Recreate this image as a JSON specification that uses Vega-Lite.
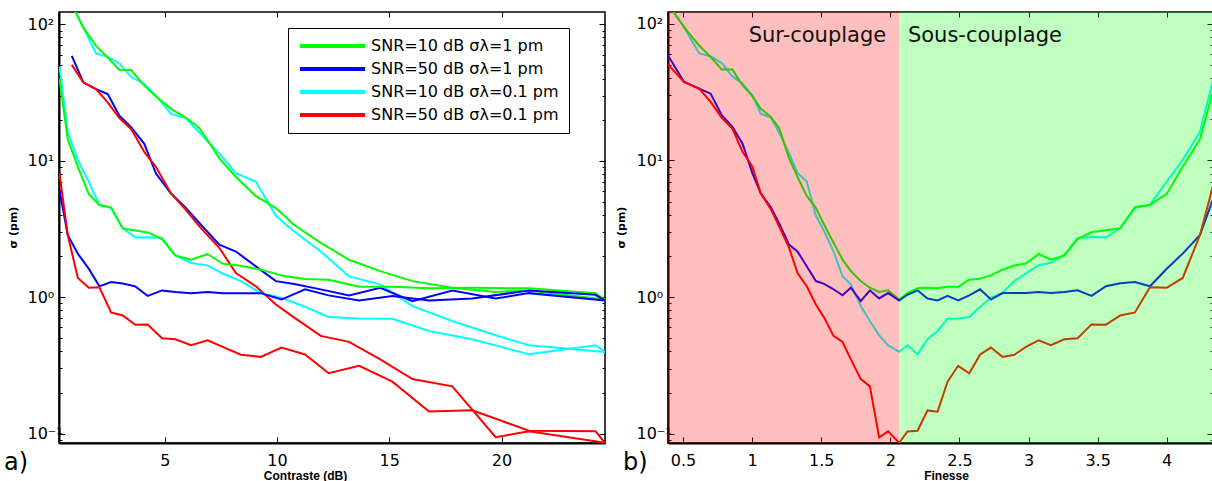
{
  "$schema": "https://vega.github.io/schema/vega-lite/v6.json",
  "padding": {"left": 3, "top": 10, "right": 0, "bottom": 0},
  "bounds": "flush",
  "spacing": 63,
  "config": {
    "font": "DejaVu Sans",
    "view": {"stroke": "#000", "strokeWidth": 1.5},
    "axis": {"grid": false, "labelFont": "DejaVu Sans", "titleFont": "Liberation Sans", "labelColor": "#000", "titleColor": "#000", "tickColor": "#000", "domainColor": "#000", "labelOverlap": false, "labelFlush": false, "labelBound": false}
  },
  "resolve": {"scale": {"color": "independent"}, "legend": {"color": "independent"}},
  "datasets": {
    "pts": [
      {"finesse":0.391,"contrast":0.86,"branch":"sur","snr10_s1":140,"snr50_s1":58.7,"snr10_s01":140,"snr50_s01":50.4},
      {"finesse":0.507,"contrast":1.375,"branch":"sur","snr10_s1":94.5,"snr50_s1":37.5,"snr10_s01":94.5,"snr50_s01":37.5},
      {"finesse":0.616,"contrast":1.94,"branch":"sur","snr10_s1":69.4,"snr50_s1":33.5,"snr10_s01":61,"snr50_s01":33.5},
      {"finesse":0.700,"contrast":2.46,"branch":"sur","snr10_s1":57.1,"snr50_s1":30.8,"snr10_s01":57.7,"snr50_s01":26.8},
      {"finesse":0.780,"contrast":2.98,"branch":"sur","snr10_s1":46.2,"snr50_s1":21.4,"snr10_s01":51.6,"snr50_s01":20.5},
      {"finesse":0.857,"contrast":3.50,"branch":"sur","snr10_s1":46.2,"snr50_s1":17.6,"snr10_s01":41.2,"snr50_s01":17.1},
      {"finesse":0.930,"contrast":4.09,"branch":"sur","snr10_s1":35.5,"snr50_s1":13.3,"snr10_s01":36.5,"snr50_s01":11.6},
      {"finesse":1.002,"contrast":4.61,"branch":"sur","snr10_s1":29.5,"snr50_s1":8.05,"snr10_s01":30,"snr50_s01":9.0},
      {"finesse":1.062,"contrast":5.28,"branch":"sur","snr10_s1":24,"snr50_s1":5.75,"snr10_s01":22.0,"snr50_s01":5.75},
      {"finesse":1.135,"contrast":5.92,"branch":"sur","snr10_s1":20.8,"snr50_s1":4.55,"snr10_s01":20.6,"snr50_s01":4.4},
      {"finesse":1.195,"contrast":6.55,"branch":"sur","snr10_s1":17.3,"snr50_s1":3.48,"snr10_s01":16,"snr50_s01":3.29},
      {"finesse":1.267,"contrast":7.43,"branch":"sur","snr10_s1":10.4,"snr50_s1":2.42,"snr10_s01":11.3,"snr50_s01":2.3},
      {"finesse":1.328,"contrast":8.17,"branch":"sur","snr10_s1":7.6,"snr50_s1":2.16,"snr10_s01":8.1,"snr50_s01":1.50},
      {"finesse":1.395,"contrast":9.06,"branch":"sur","snr10_s1":5.5,"snr50_s1":1.68,"snr10_s01":7.0,"snr50_s01":1.20},
      {"finesse":1.461,"contrast":9.95,"branch":"sur","snr10_s1":4.5,"snr50_s1":1.31,"snr10_s01":3.95,"snr50_s01":0.883},
      {"finesse":1.521,"contrast":10.77,"branch":"sur","snr10_s1":3.38,"snr50_s1":1.25,"snr10_s01":3.03,"snr50_s01":0.707},
      {"finesse":1.589,"contrast":11.95,"branch":"sur","snr10_s1":2.5,"snr50_s1":1.14,"snr10_s01":2.16,"snr50_s01":0.52},
      {"finesse":1.654,"contrast":13.21,"branch":"sur","snr10_s1":1.88,"snr50_s1":1.03,"snr10_s01":1.42,"snr50_s01":0.47},
      {"finesse":1.714,"contrast":14.6,"branch":"sur","snr10_s1":1.55,"snr50_s1":1.17,"snr10_s01":1.24,"snr50_s01":0.35},
      {"finesse":1.786,"contrast":16.03,"branch":"sur","snr10_s1":1.31,"snr50_s1":0.935,"snr10_s01":0.86,"snr50_s01":0.251},
      {"finesse":1.852,"contrast":17.81,"branch":"sur","snr10_s1":1.17,"snr50_s1":1.12,"snr10_s01":0.668,"snr50_s01":0.222},
      {"finesse":1.919,"contrast":19.74,"branch":"sur","snr10_s1":1.09,"snr50_s1":0.977,"snr10_s01":0.525,"snr50_s01":0.094},
      {"finesse":1.984,"contrast":21.22,"branch":"sur","snr10_s1":1.12,"snr50_s1":1.07,"snr10_s01":0.444,"snr50_s01":0.104},
      {"finesse":2.064,"contrast":24.6,"branch":"sur","snr10_s1":0.96,"snr50_s1":0.944,"snr10_s01":0.397,"snr50_s01":0.0857},
      {"finesse":2.064,"contrast":24.6,"branch":"sous","snr10_s1":0.96,"snr50_s1":0.944,"snr10_s01":0.397,"snr50_s01":0.0857},
      {"finesse":2.124,"contrast":24.19,"branch":"sous","snr10_s1":1.07,"snr50_s1":1.04,"snr10_s01":0.444,"snr50_s01":0.104},
      {"finesse":2.197,"contrast":21.22,"branch":"sous","snr10_s1":1.16,"snr50_s1":1.12,"snr10_s01":0.382,"snr50_s01":0.105},
      {"finesse":2.269,"contrast":18.70,"branch":"sous","snr10_s1":1.17,"snr50_s1":0.977,"snr10_s01":0.491,"snr50_s01":0.148},
      {"finesse":2.342,"contrast":16.77,"branch":"sous","snr10_s1":1.16,"snr50_s1":0.944,"snr10_s01":0.565,"snr50_s01":0.145},
      {"finesse":2.414,"contrast":15.14,"branch":"sous","snr10_s1":1.19,"snr50_s1":1.02,"snr10_s01":0.695,"snr50_s01":0.24},
      {"finesse":2.491,"contrast":13.66,"branch":"sous","snr10_s1":1.19,"snr50_s1":0.944,"snr10_s01":0.698,"snr50_s01":0.314},
      {"finesse":2.571,"contrast":12.3,"branch":"sous","snr10_s1":1.34,"snr50_s1":1.03,"snr10_s01":0.715,"snr50_s01":0.277},
      {"finesse":2.650,"contrast":11.25,"branch":"sous","snr10_s1":1.36,"snr50_s1":1.14,"snr10_s01":0.85,"snr50_s01":0.38},
      {"finesse":2.728,"contrast":10.2,"branch":"sous","snr10_s1":1.44,"snr50_s1":0.96,"snr10_s01":0.99,"snr50_s01":0.427},
      {"finesse":2.812,"contrast":9.28,"branch":"sous","snr10_s1":1.59,"snr50_s1":1.07,"snr10_s01":1.07,"snr50_s01":0.365},
      {"finesse":2.897,"contrast":8.39,"branch":"sous","snr10_s1":1.70,"snr50_s1":1.07,"snr10_s01":1.31,"snr50_s01":0.378},
      {"finesse":2.981,"contrast":7.58,"branch":"sous","snr10_s1":1.76,"snr50_s1":1.07,"snr10_s01":1.49,"snr50_s01":0.432},
      {"finesse":3.073,"contrast":6.91,"branch":"sous","snr10_s1":2.07,"snr50_s1":1.09,"snr10_s01":1.71,"snr50_s01":0.483},
      {"finesse":3.162,"contrast":6.17,"branch":"sous","snr10_s1":1.88,"snr50_s1":1.07,"snr10_s01":1.78,"snr50_s01":0.444},
      {"finesse":3.259,"contrast":5.47,"branch":"sous","snr10_s1":2.02,"snr50_s1":1.09,"snr10_s01":2.02,"snr50_s01":0.491},
      {"finesse":3.355,"contrast":4.88,"branch":"sous","snr10_s1":2.66,"snr50_s1":1.12,"snr10_s01":2.71,"snr50_s01":0.499},
      {"finesse":3.456,"contrast":4.24,"branch":"sous","snr10_s1":2.98,"snr50_s1":1.02,"snr10_s01":2.75,"snr50_s01":0.631},
      {"finesse":3.560,"contrast":3.69,"branch":"sous","snr10_s1":3.08,"snr50_s1":1.20,"snr10_s01":2.74,"snr50_s01":0.628},
      {"finesse":3.664,"contrast":3.13,"branch":"sous","snr10_s1":3.19,"snr50_s1":1.26,"snr10_s01":3.19,"snr50_s01":0.734},
      {"finesse":3.770,"contrast":2.61,"branch":"sous","snr10_s1":4.55,"snr50_s1":1.29,"snr10_s01":4.49,"snr50_s01":0.772},
      {"finesse":3.879,"contrast":2.09,"branch":"sous","snr10_s1":4.73,"snr50_s1":1.20,"snr10_s01":4.73,"snr50_s01":1.18},
      {"finesse":4.000,"contrast":1.62,"branch":"sous","snr10_s1":5.69,"snr50_s1":1.61,"snr10_s01":7.0,"snr50_s01":1.17},
      {"finesse":4.116,"contrast":1.13,"branch":"sous","snr10_s1":9.0,"snr50_s1":2.08,"snr10_s01":10.1,"snr50_s01":1.38},
      {"finesse":4.241,"contrast":0.68,"branch":"sous","snr10_s1":14.3,"snr50_s1":2.85,"snr10_s01":16.2,"snr50_s01":2.85},
      {"finesse":4.36,"contrast":0.31,"branch":"sous","snr10_s1":40,"snr50_s1":6.1,"snr10_s01":49,"snr50_s01":8.1}
    ],
    "zones": [
      {"zone": "Sur-couplage", "start": 0, "end": 2.064},
      {"zone": "Sous-couplage", "start": 2.064, "end": 5}
    ],
    "labels": [
      {"label": "Sur-couplage", "finesse": 0.975, "sigma": 73},
      {"label": "Sous-couplage", "finesse": 2.127, "sigma": 73}
    ]
  },
  "hconcat": [
    {
      "width": 546,
      "height": 431,
      "title": {"text": "a)", "orient": "bottom", "anchor": "start", "frame": "group", "dx": -55, "dy": -30, "fontSize": 24, "fontWeight": "normal", "font": "DejaVu Sans", "color": "#000", "offset": 0},
      "data": {"name": "pts"},
      "transform": [{"fold": ["snr10_s01", "snr10_s1", "snr50_s1", "snr50_s01"], "as": ["serie", "sigma"]}],
      "layer": [
        {
          "mark": {"type": "line", "strokeWidth": 2, "clip": true},
          "encoding": {
            "x": {"field": "contrast", "type": "quantitative", "scale": {"domain": [0.29, 24.61], "nice": false, "zero": false},
              "axis": {"orient": "bottom", "values": [5, 10, 15, 20], "tickSize": -6, "labelPadding": 15, "labelBaseline": "top", "labelFontSize": 16, "domainWidth": 2, "title": "Contraste (dB)", "titleFontSize": 12, "titleFontWeight": "bold", "titleX": 246, "titleY": 36, "titleBaseline": "alphabetic"}},
            "y": {"field": "sigma", "type": "quantitative", "scale": {"type": "log", "domain": [0.0853, 123], "nice": false},
              "axis": {"orient": "left", "values": [0.09,0.1,0.2,0.3,0.4,0.5,0.6,0.7,0.8,0.9,1,2,3,4,5,6,7,8,9,10,20,30,40,50,60,70,80,90,100],
                "labelExpr": "datum.value == 100 ? '10²' : datum.value == 10 ? '10¹' : datum.value == 1 ? '10⁰' : datum.value == 0.1 ? '10⁻¹' : ''",
                "tickSize": {"condition": {"test": "indexof([0.1,1,10,100], datum.value) >= 0", "value": -6}, "value": -3},
                "labelAlign": "left", "labelBaseline": "middle", "labelPadding": 38, "labelFontSize": 16, "domainWidth": 2,
                "title": "σ (pm)", "titleFont": "DejaVu Sans", "titleFontSize": 11, "titleFontWeight": "bold", "titleX": -46, "titleY": 215, "titleAngle": -90, "titleAlign": "center", "titleBaseline": "middle"}},
            "color": {"field": "serie", "type": "nominal",
              "scale": {"domain": ["snr10_s1", "snr50_s1", "snr10_s01", "snr50_s01"], "range": ["#00ff00", "#0000ff", "#00ffff", "#ff0000"]},
              "legend": {"orient": "none", "legendX": 229, "legendY": 16, "title": null, "symbolType": "stroke", "symbolSize": 4225, "symbolStrokeWidth": 4, "clipHeight": 16, "rowPadding": 7, "padding": 10, "labelOffset": 4, "labelLimit": 0,
                "labelFontSize": 16, "labelFont": "DejaVu Sans", "labelColor": "#000", "strokeColor": "#000", "fillColor": "#fff",
                "labelExpr": "datum.value == 'snr10_s1' ? 'SNR=10 dB σλ=1 pm' : datum.value == 'snr50_s1' ? 'SNR=50 dB σλ=1 pm' : datum.value == 'snr10_s01' ? 'SNR=10 dB σλ=0.1 pm' : 'SNR=50 dB σλ=0.1 pm'"}},
            "detail": {"field": "branch", "type": "nominal"}
          }
        },
        {
          "mark": {"type": "point", "opacity": 0, "clip": true},
          "encoding": {
            "x": {"field": "contrast", "type": "quantitative", "axis": {"orient": "top", "values": [5, 10, 15, 20], "tickSize": -5, "labels": false, "domain": false, "title": null}},
            "y": {"field": "sigma", "type": "quantitative", "axis": {"orient": "right", "values": [0.09,0.1,0.2,0.3,0.4,0.5,0.6,0.7,0.8,0.9,1,2,3,4,5,6,7,8,9,10,20,30,40,50,60,70,80,90,100], "labels": false, "domain": false, "title": null,
              "tickSize": {"condition": {"test": "indexof([0.1,1,10,100], datum.value) >= 0", "value": -6}, "value": -3}}}
          }
        }
      ],
      "resolve": {"axis": {"x": "independent", "y": "independent"}}
    },
    {
      "width": 545,
      "height": 431,
      "title": {"text": "b)", "orient": "bottom", "anchor": "start", "frame": "group", "dx": -45, "dy": -30, "fontSize": 24, "fontWeight": "normal", "font": "DejaVu Sans", "color": "#000", "offset": 0},
      "layer": [
        {
          "data": {"name": "pts"},
          "transform": [{"fold": ["snr10_s01", "snr10_s1", "snr50_s1", "snr50_s01"], "as": ["serie", "sigma"]}],
          "mark": {"type": "line", "strokeWidth": 2, "clip": true},
          "encoding": {
            "x": {"field": "finesse", "type": "quantitative", "scale": {"domain": [0.391, 4.335], "nice": false, "zero": false},
              "axis": {"orient": "bottom", "values": [0.5, 1, 1.5, 2, 2.5, 3, 3.5, 4], "format": "~g", "tickSize": -6, "labelPadding": 15, "labelBaseline": "top", "labelFontSize": 16, "domainWidth": 2, "title": "Finesse", "titleFontSize": 12, "titleFontWeight": "bold", "titleX": 278, "titleY": 36, "titleBaseline": "alphabetic"}},
            "y": {"field": "sigma", "type": "quantitative", "scale": {"type": "log", "domain": [0.0855, 122], "nice": false},
              "axis": {"orient": "left", "values": [0.09,0.1,0.2,0.3,0.4,0.5,0.6,0.7,0.8,0.9,1,2,3,4,5,6,7,8,9,10,20,30,40,50,60,70,80,90,100],
                "labelExpr": "datum.value == 100 ? '10²' : datum.value == 10 ? '10¹' : datum.value == 1 ? '10⁰' : datum.value == 0.1 ? '10⁻¹' : ''",
                "tickSize": {"condition": {"test": "indexof([0.1,1,10,100], datum.value) >= 0", "value": -6}, "value": -3},
                "labelAlign": "left", "labelBaseline": "middle", "labelPadding": 38, "labelFontSize": 16, "domainWidth": 2,
                "title": "σ (pm)", "titleFont": "DejaVu Sans", "titleFontSize": 11, "titleFontWeight": "bold", "titleX": -47, "titleY": 215, "titleAngle": -90, "titleAlign": "center", "titleBaseline": "middle"}},
            "color": {"field": "serie", "type": "nominal",
              "scale": {"domain": ["snr10_s1", "snr50_s1", "snr10_s01", "snr50_s01"], "range": ["#00ff00", "#0000ff", "#00ffff", "#ff0000"]},
              "legend": null}
          }
        },
        {
          "data": {"name": "zones"},
          "mark": {"type": "rect", "opacity": 0.25, "clip": true},
          "encoding": {
            "x": {"field": "start", "type": "quantitative", "axis": null},
            "x2": {"field": "end"},
            "fill": {"field": "zone", "type": "nominal", "scale": {"domain": ["Sur-couplage", "Sous-couplage"], "range": ["#ff0000", "#00ff00"]}, "legend": null}
          }
        },
        {
          "data": {"name": "labels"},
          "mark": {"type": "text", "align": "left", "baseline": "alphabetic", "fontSize": 21, "font": "DejaVu Sans", "color": "#111"},
          "encoding": {
            "x": {"field": "finesse", "type": "quantitative", "axis": null},
            "y": {"field": "sigma", "type": "quantitative", "axis": null},
            "text": {"field": "label"}
          }
        },
        {
          "data": {"name": "labels"},
          "mark": {"type": "point", "opacity": 0},
          "encoding": {
            "x": {"field": "finesse", "type": "quantitative", "axis": {"orient": "top", "values": [0.5, 1, 1.5, 2, 2.5, 3, 3.5, 4], "tickSize": -5, "labels": false, "domain": false, "title": null}},
            "y": {"field": "sigma", "type": "quantitative", "axis": {"orient": "right", "values": [0.09,0.1,0.2,0.3,0.4,0.5,0.6,0.7,0.8,0.9,1,2,3,4,5,6,7,8,9,10,20,30,40,50,60,70,80,90,100], "labels": false, "domain": false, "title": null,
              "tickSize": {"condition": {"test": "indexof([0.1,1,10,100], datum.value) >= 0", "value": -6}, "value": -3}}}
          }
        }
      ],
      "resolve": {"axis": {"x": "independent", "y": "independent"}}
    }
  ]
}
